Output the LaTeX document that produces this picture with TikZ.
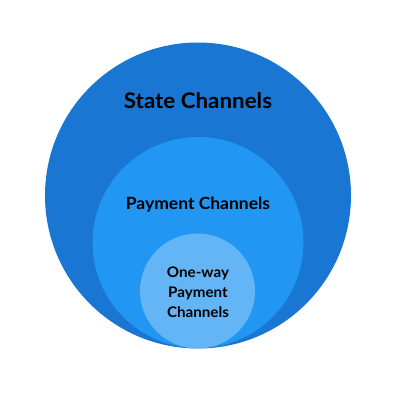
\documentclass[tikz,border=0pt]{standalone}
\usepackage{fontspec}
\setmainfont{Lato}[FakeStretch=1.04]
\definecolor{outerblue}{HTML}{1976D2}
\definecolor{midblue}{HTML}{2196F3}
\definecolor{innerblue}{HTML}{64B5F6}
\begin{document}
\begin{tikzpicture}[x=1pt,y=-1pt,
  lbl/.style={font=\bfseries, text=black, align=center, inner sep=0pt}]
\useasboundingbox (0,0) rectangle (400,400);
\fill[white] (0,0) rectangle (400,400);
\node[circle, fill=outerblue, minimum size=306pt, inner sep=0pt] (outer) at (198,195.5) {};
\node[circle, fill=midblue, minimum size=211pt, inner sep=0pt] (mid) at (198,242.5) {};
\node[circle, fill=innerblue, minimum size=115pt, inner sep=0pt] (inner) at (197.5,291) {};
\node[lbl, font=\bfseries\fontsize{21.5}{25}\selectfont] (t1) at (198,101) {State Channels};
\node[lbl, font=\bfseries\fontsize{16.8}{20}\selectfont] (t2) at (198,205) {Payment Channels};
\node[lbl, font=\bfseries\fontsize{14.6}{20}\selectfont] (t3) at (198,292.5) {One-way\\Payment\\Channels};
\end{tikzpicture}
\end{document}
